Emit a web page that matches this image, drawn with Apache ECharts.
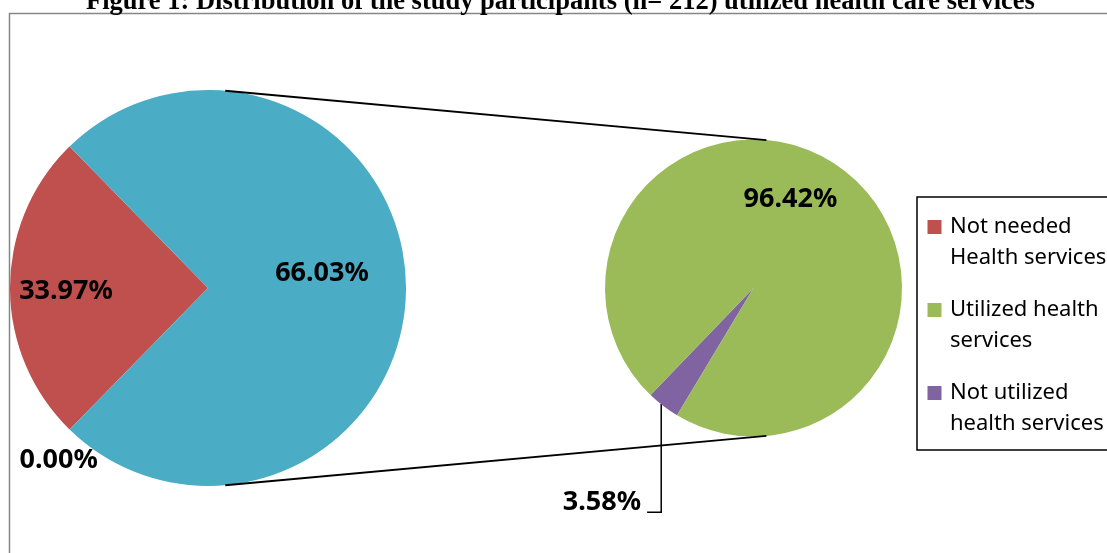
<!DOCTYPE html>
<html>
<head>
<meta charset="utf-8">
<title>Figure 1</title>
<script src="https://cdn.jsdelivr.net/npm/echarts@6/dist/echarts.min.js"></script>
<style>
html, body { margin: 0; padding: 0; background: #fff; }
#main { width: 1107px; height: 553px; }
</style>
</head>
<body>
<div id="main"></div>
<script>
"use strict";
// 数据
var categories = ['Not needed Health services', 'Utilized health services', 'Not utilized health services'];
var legendText = ['Not needed\nHealth services', 'Utilized health\nservices', 'Not utilized\nhealth services'];
// first pie: Not needed, blank point (0.00%)
var firstPieValues = [33.97, 0];
// second pie: Not utilized, Utilized
var secondPieValues = [3.58, 96.42];
// label shown on the combined ("other") slice
var otherLabel = '66.03%';

var colors = ['#C0504D', '#9BBB59', '#8064A2', '#4BACC6'];

// layout
var leftCenter = [208, 288], leftR = 198;
var rightCenter = [753.5, 288], rightR = 148.5;
var connectAngle = 85 * Math.PI / 180;
var leftShift = [[-40, 3], [12, -14.5], [-78, 99]];
var rightShift = [[11, 85], [-10, -27.5]];

var otherValue = secondPieValues[0] + secondPieValues[1];
var firstTotal = firstPieValues[0] + otherValue + firstPieValues[1];
var leftStart = 180 + 180 * firstPieValues[0] / firstTotal;

function pctText(p){
    if (p.data.other) return otherLabel;
    return p.value.toFixed(2) + '%';
}

function shiftLayout(shift){
    return function(p){
        var s = shift[p.dataIndex];
        var r = p.labelRect;
        var cx = r.x + r.width / 2 + s[0];
        var cy = r.y + r.height / 2 + s[1];
        var out = { x: cx, y: cy, align: 'center', verticalAlign: 'middle' };
        // leader: straight down from the slice edge, then across to the label
        if (p.labelLinePoints) {
            var start = p.labelLinePoints[0];
            var yEnd = cy + r.height / 2 - 4;
            out.labelLinePoints = [
                [start[0] - 2, start[1] - 2],
                [start[0] - 2, yEnd],
                [cx + r.width / 2 + 6, yEnd]
            ];
        }
        return out;
    };
}

var labelStyle = {
    show: true,
    position: 'inside',
    formatter: pctText,
    fontFamily: 'Noto Sans',
    fontWeight: 'bold',
    fontSize: 27,
    color: '#000'
};

function connector(sign){
    return {
        type: 'line',
        z: 100,
        shape: {
            x1: leftCenter[0] + leftR * Math.cos(connectAngle),
            y1: leftCenter[1] - sign * leftR * Math.sin(connectAngle),
            x2: rightCenter[0] + rightR * Math.cos(connectAngle),
            y2: rightCenter[1] - sign * rightR * Math.sin(connectAngle)
        },
        style: { stroke: '#000', lineWidth: 1.8 }
    };
}

var option = {
    animation: false,
    title: {
        text: 'Figure 1: Distribution of the study participants (n= 212) utilized health care services',
        left: 86,
        top: -11,
        padding: 0,
        textStyle: { fontFamily: 'Liberation Serif', fontWeight: 'bold', fontSize: 26.5, color: '#000' }
    },
    legend: {
        orient: 'vertical',
        left: 917,
        top: 197,
        data: categories,
        formatter: function(name){ return legendText[categories.indexOf(name)]; },
        icon: 'path://M0,0h14v14h-14z M17.49,43.99h0.01v0.01h-0.01z',
        itemWidth: 17.5,
        itemHeight: 44,
        itemGap: 21,
        padding: [14, 10, 11, 10.5],
        borderColor: '#000',
        borderWidth: 1.5,
        selectedMode: false,
        itemStyle: { borderWidth: 0 },
        textStyle: { fontFamily: 'Noto Sans', fontSize: 22, lineHeight: 31, color: '#000' }
    },
    graphic: [
        {
            type: 'rect',
            z: -10,
            shape: { x: 9.5, y: 13.5, width: 1200, height: 600 },
            style: { fill: 'none', stroke: '#868686', lineWidth: 1.5 }
        },
        connector(1),
        connector(-1)
    ],
    series: [
        {
            type: 'pie',
            center: leftCenter,
            radius: leftR,
            startAngle: leftStart,
            clockwise: true,
            avoidLabelOverlap: false,
            silent: true,
            label: labelStyle,
            labelLine: { show: false },
            labelLayout: shiftLayout(leftShift),
            itemStyle: { borderWidth: 0 },
            emphasis: { disabled: true },
            data: [
                { name: categories[0], value: firstPieValues[0], itemStyle: { color: colors[0] } },
                { name: 'Other', value: otherValue, other: true, itemStyle: { color: colors[3] } },
                { name: '', value: firstPieValues[1], itemStyle: { color: colors[3] } }
            ]
        },
        {
            type: 'pie',
            center: rightCenter,
            radius: rightR,
            startAngle: 239,
            clockwise: true,
            avoidLabelOverlap: false,
            silent: true,
            label: labelStyle,
            labelLine: { show: false },
            labelLayout: shiftLayout(rightShift),
            itemStyle: { borderWidth: 0 },
            emphasis: { disabled: true },
            data: [
                {
                    name: categories[2], value: secondPieValues[0], itemStyle: { color: colors[2] },
                    label: { position: 'outside' },
                    labelLine: { show: true, length: 15, length2: 19, smooth: false, lineStyle: { color: '#000', width: 1.5 } }
                },
                { name: categories[1], value: secondPieValues[1], itemStyle: { color: colors[1] } }
            ]
        }
    ]
};

var myChart = echarts.init(document.getElementById('main'));
myChart.setOption(option, true);
</script>
</body>
</html>
